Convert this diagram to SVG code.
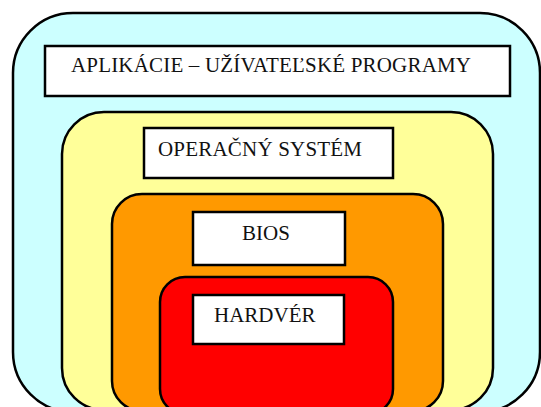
<svg xmlns="http://www.w3.org/2000/svg" width="541" height="407" viewBox="0 0 541 407">
<style>
.layer{stroke:#000;stroke-width:2.5}
.box{fill:#fff;stroke:#000;stroke-width:2.5}
.lbl{font-family:"Liberation Serif","Times New Roman",serif;font-size:21px;fill:#111}
</style>
<rect width="541" height="407" fill="#fff"/>
<g id="aplikacie">
<rect class="layer" x="13" y="13" width="527" height="399" rx="60" ry="60" fill="#CCFFFF"/>
<rect class="box" x="45" y="46" width="465" height="50"/>
<text class="lbl" x="71" y="72" textLength="400" lengthAdjust="spacing">APLIKÁCIE – UŽÍVATEĽSKÉ PROGRAMY</text>
</g>
<g id="os">
<rect class="layer" x="62" y="112" width="431" height="298" rx="42" ry="42" fill="#FFFF99"/>
<rect class="box" x="144" y="128" width="249" height="50"/>
<text class="lbl" x="158" y="156" textLength="204" lengthAdjust="spacing">OPERAČNÝ SYSTÉM</text>
</g>
<g id="bios">
<rect class="layer" x="112" y="194" width="331" height="217" rx="30" ry="30" fill="#FF9900"/>
<rect class="box" x="193" y="212" width="152" height="53"/>
<text class="lbl" x="242" y="240">BIOS</text>
</g>
<g id="hardver">
<rect class="layer" x="160" y="277" width="233" height="137" rx="25" ry="25" fill="#FF0000"/>
<rect class="box" x="193" y="295" width="151" height="49"/>
<text class="lbl" x="214" y="322">HARDVÉR</text>
</g>
<g id="connectors"/>
</svg>
